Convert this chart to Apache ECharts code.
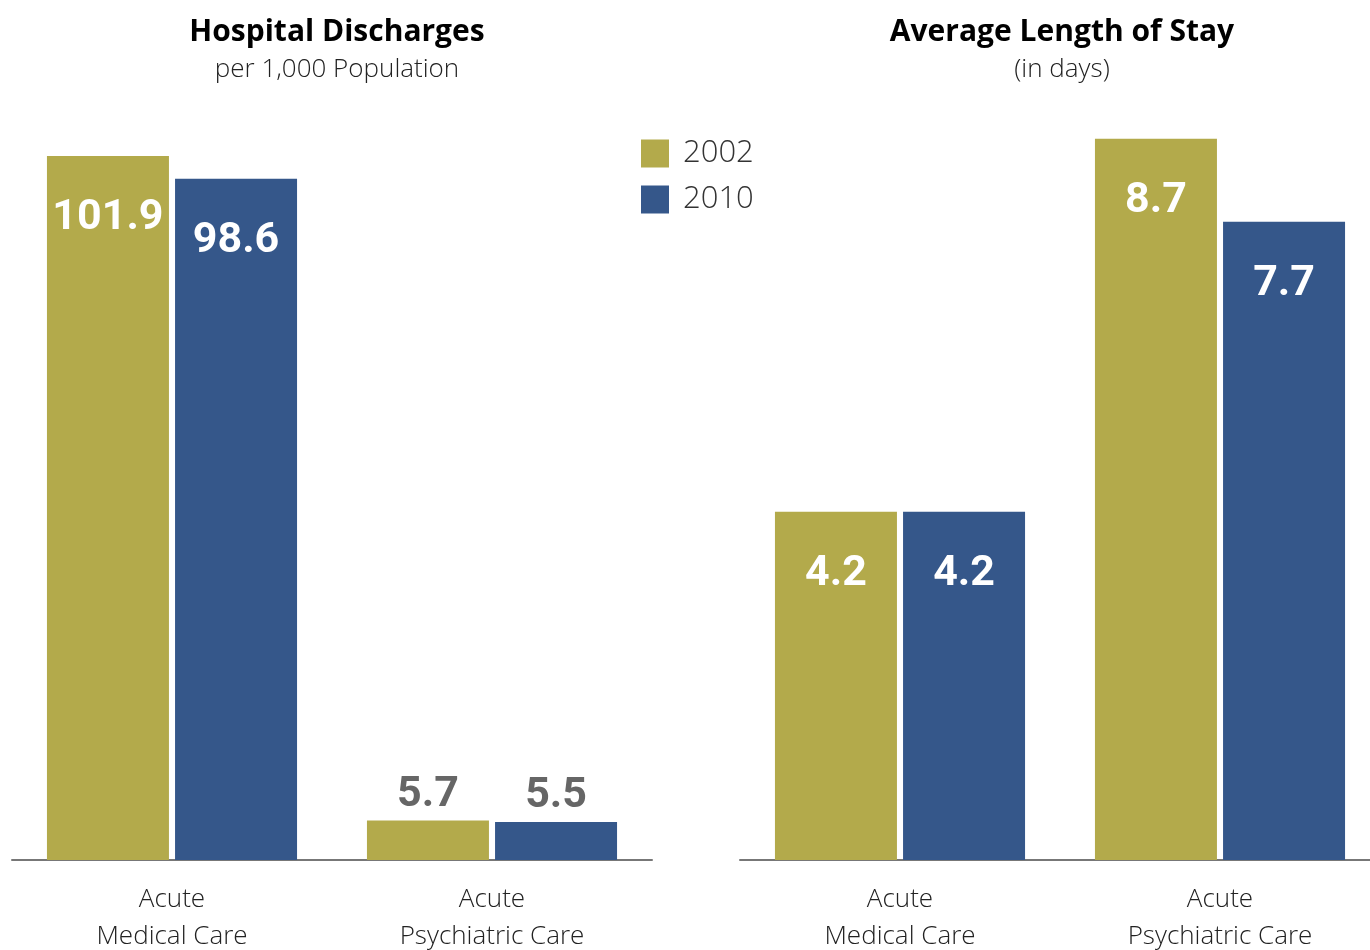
<!DOCTYPE html>
<html>
<head>
<meta charset="utf-8">
<title>Hospital Discharges / Average Length of Stay</title>
<script src="https://cdn.jsdelivr.net/npm/echarts@6/dist/echarts.min.js"></script>
<style>
  html, body { margin: 0; padding: 0; background: #fff; }
  #main { width: 1370px; height: 950px; }
</style>
</head>
<body>
<div id="main"></div>
<script>
// data
const categories = ['Acute\nMedical Care', 'Acute\nPsychiatric Care']
const years = ['2002', '2010']
const discharges2002 = [101.9, 5.7]
const discharges2010 = [98.6, 5.5]
const stay2002 = [4.2, 8.7]
const stay2010 = [4.2, 7.7]

const colorArr = ['#B3AA4B', '#35578A']
// no condensed face installed, Roboto is the narrowest bold
const numFont = 'Roboto, "Liberation Sans", sans-serif'
const textFont = '"Open Sans", "Noto Sans", sans-serif'
const axisMax = [110, 9]

const chart = echarts.init(document.getElementById('main'), null, { renderer: 'canvas' })

// short bars can't hold the label, put it above the bar in grey
function makeData (values, max) {
  return values.map(v => {
    if (v / max < 0.15) {
      return {
        value: v,
        label: { position: 'top', distance: 4, color: '#666' }
      }
    }
    return v
  })
}

function barSeries (name, values, idx, axisIdx) {
  return {
    name: name,
    type: 'bar',
    xAxisIndex: axisIdx,
    yAxisIndex: axisIdx,
    barWidth: 122,
    barGap: '5%',
    itemStyle: { color: colorArr[idx] },
    label: {
      show: true,
      position: 'insideTop',
      distance: 41,
      color: '#fff',
      fontFamily: numFont,
      fontWeight: 'bold',
      fontSize: 43
    },
    data: makeData(values, axisMax[axisIdx])
  }
}

const xAxisBase = {
  type: 'category',
  data: categories,
  axisLine: { lineStyle: { color: '#777', width: 2 } },
  axisTick: { show: false },
  axisLabel: {
    margin: 21,
    fontSize: 26,
    lineHeight: 37,
    color: '#222',
    fontFamily: textFont,
    fontWeight: 300
  }
}

const option = {
  animation: false,
  textStyle: { fontFamily: textFont },
  title: [{
    text: 'Hospital Discharges',
    subtext: 'per 1,000 Population',
    left: 332,
    top: 12,
    textAlign: 'center',
    itemGap: 10,
    textStyle: { fontSize: 30, fontWeight: 'bold', color: '#000', fontFamily: textFont },
    subtextStyle: { fontSize: 26, color: '#222', fontWeight: 300, fontFamily: textFont }
  }, {
    text: 'Average Length of Stay',
    subtext: '(in days)',
    left: 1057,
    top: 12,
    textAlign: 'center',
    itemGap: 10,
    textStyle: { fontSize: 30, fontWeight: 'bold', color: '#000', fontFamily: textFont },
    subtextStyle: { fontSize: 26, color: '#222', fontWeight: 300, fontFamily: textFont }
  }],
  legend: {
    data: years,
    orient: 'vertical',
    left: 641,
    top: 138,
    padding: 0,
    icon: 'rect',
    itemWidth: 28,
    itemHeight: 28,
    itemGap: 15,
    textStyle: {
      fontSize: 31,
      color: '#333',
      fontWeight: 300,
      fontFamily: textFont,
      padding: [9, 0, 0, 9]
    }
  },
  grid: [
    { left: 12, width: 640, top: 100, bottom: 90, outerBoundsMode: 'none' },
    { left: 740, right: -10, top: 114, bottom: 90, outerBoundsMode: 'none' }
  ],
  xAxis: [
    Object.assign({ gridIndex: 0 }, xAxisBase),
    Object.assign({ gridIndex: 1 }, xAxisBase)
  ],
  yAxis: [
    { type: 'value', gridIndex: 0, min: 0, max: axisMax[0], show: false, splitLine: { show: false } },
    { type: 'value', gridIndex: 1, min: 0, max: axisMax[1], show: false, splitLine: { show: false } }
  ],
  series: [
    barSeries(years[0], discharges2002, 0, 0),
    barSeries(years[1], discharges2010, 1, 0),
    barSeries(years[0], stay2002, 0, 1),
    barSeries(years[1], stay2010, 1, 1)
  ]
}

chart.setOption(option)
</script>
</body>
</html>
